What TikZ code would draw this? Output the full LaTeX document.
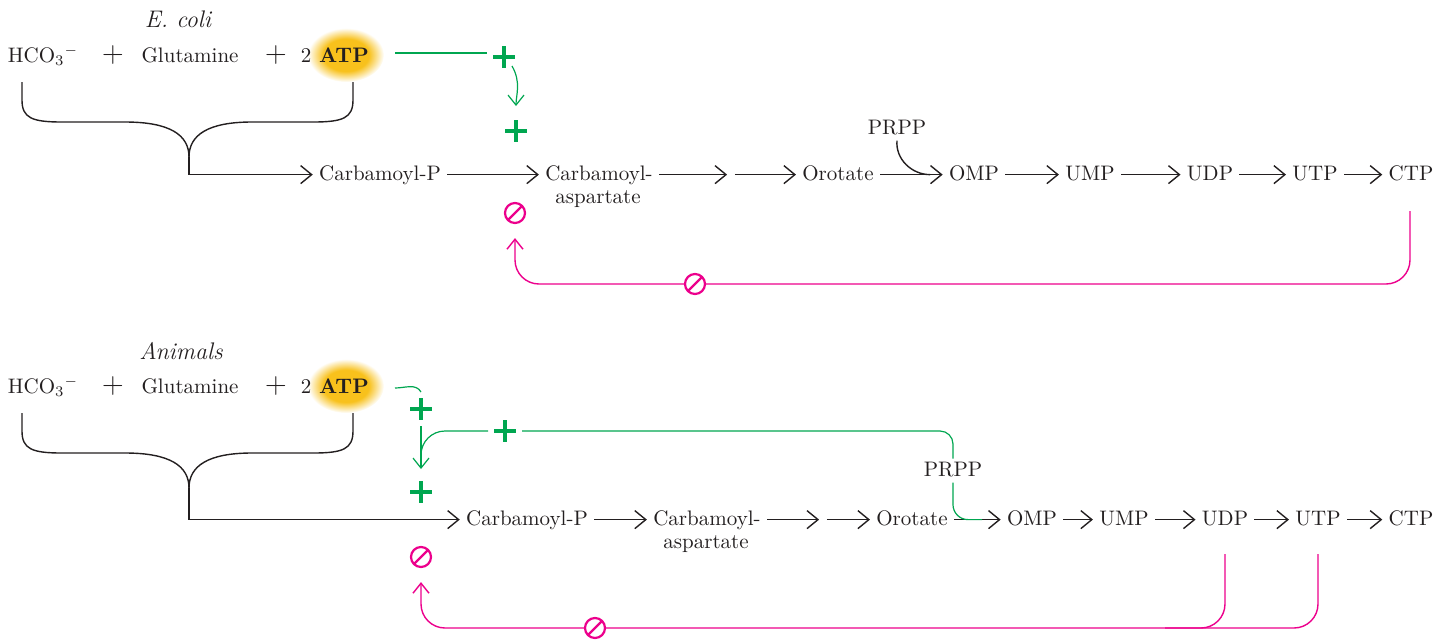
\documentclass[tikz,border=0pt]{standalone}
\usepackage{tikz}
\usetikzlibrary{calc,arrows.meta}
\definecolor{ink}{HTML}{231F20}
\definecolor{act-green}{HTML}{00A650}
\definecolor{inh-magenta}{HTML}{EC008C}
\definecolor{atp-yellow}{HTML}{F8C11C}
\pgfdeclareradialshading{atpglow}{\pgfpoint{0bp}{0bp}}{color(0bp)=(atp-yellow); color(15bp)=(atp-yellow); color(25bp)=(white); color(50bp)=(white)}
\tikzset{
  chem/.style={text=ink, font=\fontsize{10.5}{12}\selectfont, text height=1.5ex, text depth=0.25ex, inner xsep=3pt, inner ysep=2pt, anchor=base},
  organism/.style={text=ink, font=\fontsize{12}{14}\selectfont\itshape, anchor=base},
  plusop/.style={text=ink, font=\fontsize{15}{15}\selectfont, anchor=base},
  rxnline/.style={draw=ink, line width=0.7pt},
  rxn/.style={rxnline, -{Straight Barb[length=5.5pt,width=9pt]}},
  actline/.style={draw=act-green, line width=0.6pt},
  act/.style={actline, -{Straight Barb[length=5pt,width=8pt]}},
  inhline/.style={draw=inh-magenta, line width=0.7pt},
  inh/.style={inhline, -{Straight Barb[length=5pt,width=8pt]}},
  plusmark/.style={minimum size=11pt, inner sep=0pt, outer sep=3pt, path picture={
    \draw[act-green, line width=2.2pt] (path picture bounding box.west) -- (path picture bounding box.east)
      (path picture bounding box.north) -- (path picture bounding box.south);}},
  inhmark/.style={circle, draw=inh-magenta, line width=1.1pt, fill=white, minimum size=10pt, inner sep=0pt, path picture={
    \draw[inh-magenta, line width=1.1pt] (path picture bounding box.south west) -- (path picture bounding box.north east);}}
}

\begin{document}
\begin{tikzpicture}[x=0.5pt, y=-0.5pt]
    \useasboundingbox (0,0) rectangle (1437,639);

    % ---------- E. coli ----------
    \node[organism] (org1) at (178,27) {E. coli};
    \shade[shading=atpglow] (346,55) ellipse [x radius=38, y radius=27];
    \node[chem] (hco1) at (43,62) {HCO\textsubscript{3}\textsuperscript{$-$}};
    \node[plusop] (op1a) at (113,62) {+};
    \node[chem] (glu1) at (190,62) {Glutamine};
    \node[plusop] (op1b) at (276,62) {+};
    \node[chem] (two1) at (306,62) {2};
    \node[chem, font=\fontsize{10.5}{12}\selectfont\bfseries] (atp1) at (344,62) {ATP};
    % reaction chain
    \node[chem] (cp1) at (380,180) {Carbamoyl-P};
    \node[chem] (casp1) at (599,180) {Carbamoyl-};
    \node[chem] (aspt1) at (598,203) {aspartate};
    \node[chem, inner xsep=1.75pt] (gap1) at (731,180) {};
    \node[chem] (orot1) at (838,180) {Orotate};
    \node[chem] (prpp1) at (897,134) {PRPP};
    \node[chem] (omp1) at (974,180) {OMP};
    \node[chem] (ump1) at (1090,180) {UMP};
    \node[chem] (udp1) at (1210,180) {UDP};
    \node[chem] (utp1) at (1315,180) {UTP};
    \node[chem] (ctp1) at (1411,180) {CTP};
    % brace
    \coordinate (bc1) at (189,157);
    \draw[rxnline] (22,82) -- (22,100) .. controls (22,118) and (32,122) .. (62,122) -- (125,122) .. controls (170,122) and (189,135) .. (bc1);
    \draw[rxnline] (353,82) -- (353,100) .. controls (353,118) and (343,122) .. (313,122) -- (252,122) .. controls (208,122) and (189,135) .. (bc1);
    \draw[rxn] (bc1) |- (cp1);
    \draw[rxn] (cp1) -- (casp1);
    \draw[rxn] (casp1) -- (gap1);
    \draw[rxn] (gap1) -- (orot1);
    \draw[rxn] (orot1) -- (omp1);
    \draw[rxn] (omp1) -- (ump1);
    \draw[rxn] (ump1) -- (udp1);
    \draw[rxn] (udp1) -- (utp1);
    \draw[rxn] (utp1) -- (ctp1);
    \coordinate (j4) at ($(orot1.east)!0.8!(omp1.west)$);
    \draw[rxnline] (prpp1.south) to[out=-95, in=180] (j4);
    % activation by ATP
    \coordinate (g1) at (395,53);
    \coordinate (g1b) at (512,66);
    \node[plusmark] (pA) at (504,57) {};
    \node[plusmark] (pB) at (516,131) {};
    \draw[actline] (g1) -- (g1 -| pA.west);
    \draw[act, shorten >=4pt] (g1b) to[out=-60, in=90] (pB);
    % feedback inhibition by CTP
    \node[inhmark] (i1) at (515,213) {};
    \coordinate (m1) at (1410,211);
    \coordinate (h1) at (0,284);
    \draw[inh, rounded corners=12pt, shorten >=7pt] (m1) -- (m1 |- h1) -- (i1 |- h1) -- (i1);
    \node[inhmark] (i1b) at (695,284) {};

    % ---------- Animals ----------
    \node[organism] (org2) at (181,359) {Animals};
    \shade[shading=atpglow] (346,386) ellipse [x radius=38, y radius=27];
    \node[chem] (hco2) at (43,393) {HCO\textsubscript{3}\textsuperscript{$-$}};
    \node[plusop] (op2a) at (113,393) {+};
    \node[chem] (glu2) at (190,393) {Glutamine};
    \node[plusop] (op2b) at (276,393) {+};
    \node[chem] (two2) at (306,393) {2};
    \node[chem, font=\fontsize{10.5}{12}\selectfont\bfseries] (atp2) at (344,393) {ATP};
    % reaction chain
    \node[chem] (cp2) at (527,525) {Carbamoyl-P};
    \node[chem] (casp2) at (707,525) {Carbamoyl-};
    \node[chem] (aspt2) at (706,548) {aspartate};
    \node[chem, inner xsep=1.75pt] (gap2) at (823,525) {};
    \node[chem] (orot2) at (912,525) {Orotate};
    \node[chem] (prpp2) at (953,476) {PRPP};
    \node[chem] (omp2) at (1032,525) {OMP};
    \node[chem] (ump2) at (1124,525) {UMP};
    \node[chem] (udp2) at (1225,525) {UDP};
    \node[chem] (utp2) at (1318,525) {UTP};
    \node[chem] (ctp2) at (1411,525) {CTP};
    % brace
    \coordinate (bc2) at (189,488);
    \draw[rxnline] (22,413) -- (22,431) .. controls (22,449) and (32,453) .. (62,453) -- (125,453) .. controls (170,453) and (189,466) .. (bc2);
    \draw[rxnline] (353,413) -- (353,431) .. controls (353,449) and (343,453) .. (313,453) -- (252,453) .. controls (208,453) and (189,466) .. (bc2);
    \draw[rxn] (bc2) |- (cp2);
    \draw[rxn] (cp2) -- (casp2);
    \draw[rxn] (casp2) -- (gap2);
    \draw[rxn] (gap2) -- (orot2);
    \draw[rxn] (orot2) -- (omp2);
    \draw[rxn] (omp2) -- (ump2);
    \draw[rxn] (ump2) -- (udp2);
    \draw[rxn] (udp2) -- (utp2);
    \draw[rxn] (utp2) -- (ctp2);
    % activation by ATP and PRPP
    \coordinate (g2) at (395,388);
    \coordinate (j2) at (421,457);
    \coordinate (j3) at ($(orot2.east)!0.6!(omp2.west)$);
    \node[plusmark] (pC) at (421,409) {};
    \node[plusmark] (pD) at (421,492) {};
    \node[plusmark] (pE) at (505,431) {};
    \draw[actline] (g2) to[out=0, in=120] (pC.north);
    \draw[act, shorten >=3pt] (pC) -- (pD);
    \draw[actline, rounded corners=6.5pt] (prpp2.north) |- (pE);
    \draw[actline, rounded corners=12pt] (pE) -| (j2);
    \draw[actline, rounded corners=7.5pt] (prpp2.south) |- (j3);
    % feedback inhibition by UDP and UTP
    \node[inhmark] (i2) at (421,557) {};
    \coordinate (m2) at (1225,554);
    \coordinate (m3) at (1318,554);
    \coordinate (h2) at (0,628);
    \draw[inhline, rounded corners=12pt] (m2) -- (m2 |- h2) -- ++(-60,0);
    \draw[inh, rounded corners=12pt, shorten >=7pt] (m3) -- (m3 |- h2) -- (i2 |- h2) -- (i2);
    \node[inhmark] (i2b) at (595,628) {};
\end{tikzpicture}
\end{document}
